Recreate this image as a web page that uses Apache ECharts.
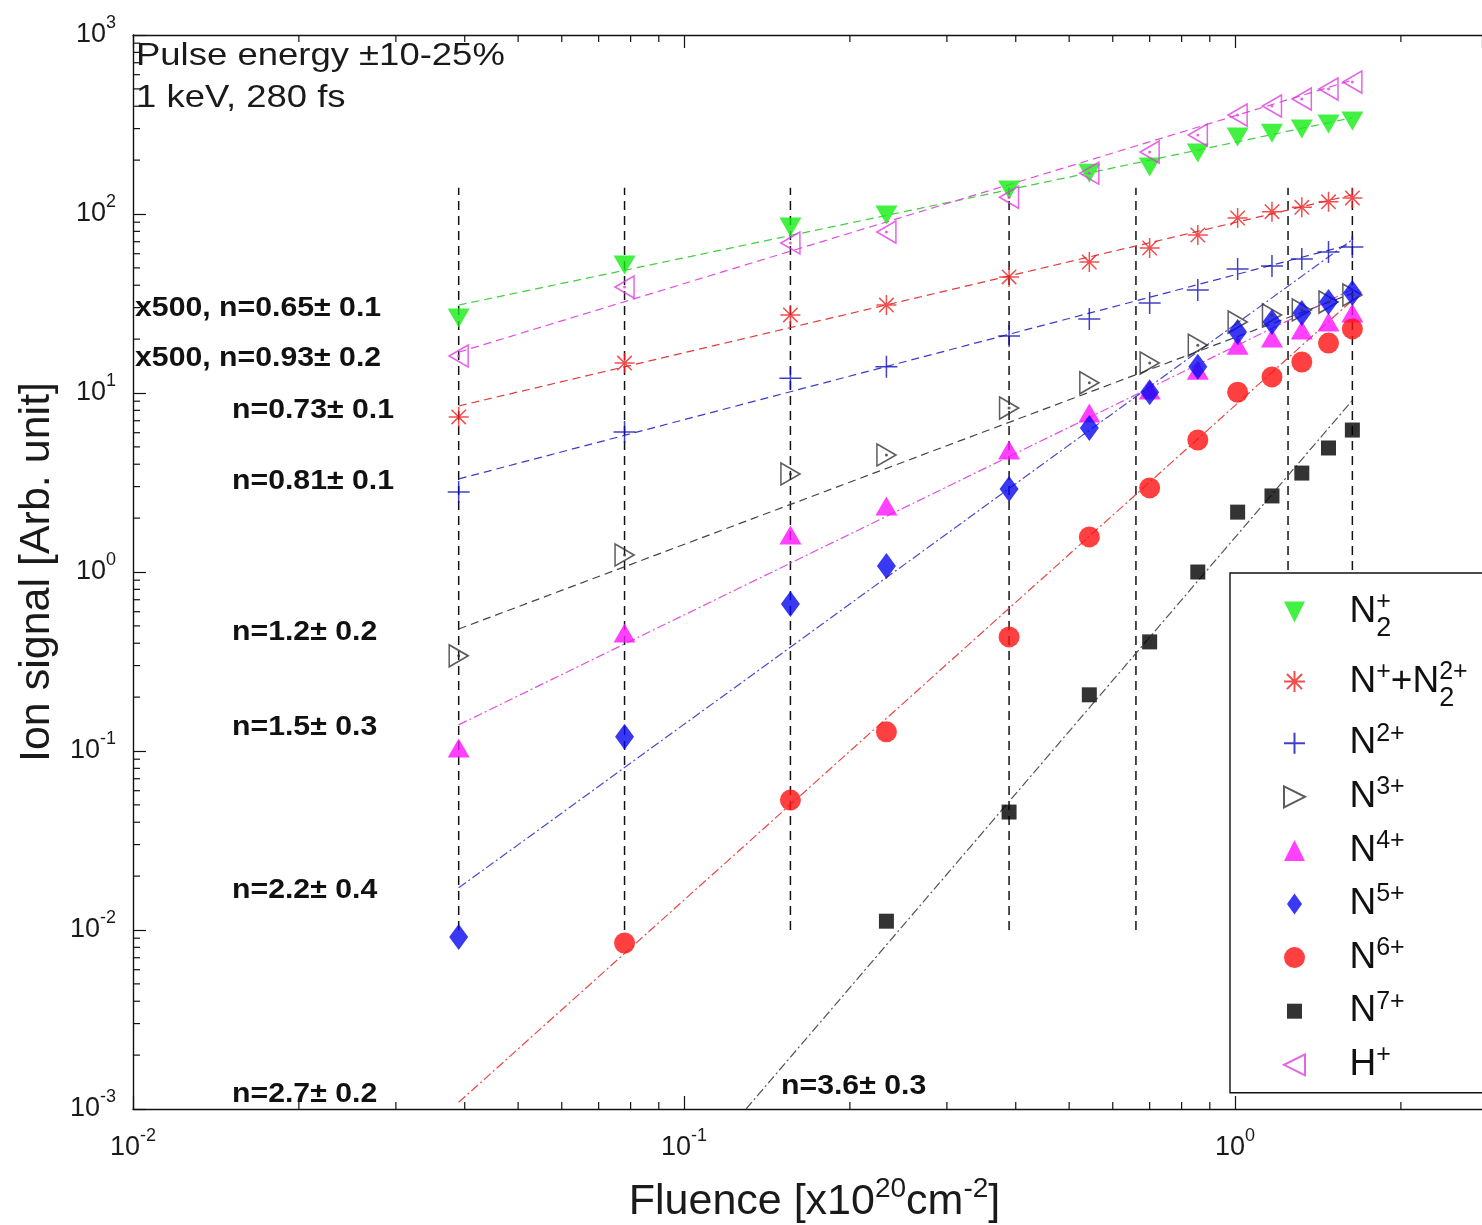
<!DOCTYPE html>
<html>
<head>
<meta charset="utf-8">
<script src="https://cdn.jsdelivr.net/npm/echarts@6/dist/echarts.min.js"></script>
<style>
html,body{margin:0;padding:0;background:#fff;}
#chart{width:1482px;height:1225px;}
</style>
</head>
<body>
<div id="chart"></div>
<script>
// ---------------- DATA ----------------
const fluence   = [0.039, 0.078, 0.156, 0.233, 0.389, 0.544, 0.700, 0.856, 1.011, 1.167, 1.322, 1.478, 1.633];
const sigN2p    = [26.2, 51.9, 84.6, 98.7, 136, 169, 183, 219, 269, 283, 298, 318, 331];
const sigNpN2pp = [7.35, 14.7, 27.3, 31.0, 44.5, 53.9, 64.6, 76.3, 95, 103, 109, 117, 123];
const sigN2plus = [2.80, 6.05, 12.1, 14.0, 20.8, 25.9, 31.8, 37.6, 49.3, 51.2, 56.1, 61.3, 65.4];
const sigN3     = [0.340, 1.245, 3.53, 4.51, 8.24, 11.4, 14.7, 18.5, 24.9, 27.3, 29.1, 32.2, 35.3];
const sigN4     = [0.104, 0.456, 1.61, 2.34, 4.80, 7.73, 10.4, 13.4, 18.5, 20.3, 22.5, 24.9, 28.0];
const sigN5     = [0.00914, 0.120, 0.662, 1.08, 2.91, 6.37, 10.1, 14.0, 21.9, 24.9, 28.0, 32.2, 36.2];
const sigN6     = [null, 0.00846, 0.0532, 0.128, 0.434, 1.57, 2.95, 5.46, 10.1, 12.3, 14.9, 19.0, 22.8];
const sigN7     = [null, null, null, 0.0112, 0.0456, 0.206, 0.407, 1.0, 2.16, 2.66, 3.57, 4.93, 6.21];
const sigHp     = [16.1, 39.1, 68.9, 79.3, 124, 169, 222, 276, 357, 401, 439, 499, 546];

// power-law fit lines (end points)
const fitX      = [0.039, 1.633];
const fitN2p    = [31.0, 345];
const fitHp     = [16.9, 560];
const fitNpN2pp = [8.46, 128];
const fitN2plus = [3.31, 68];
const fitN3     = [0.48, 36];
const fitN4     = [0.14, 38];
const fitN5     = [0.0172, 72];
const fitN6     = [0.00109, 33];
const fitN7X    = [0.1296, 1.633];
const fitN7     = [0.001, 9.1];

// vertical guide lines
const guideX = [0.039, 0.078, 0.156, 0.389, 0.661, 1.248, 1.633];
const guideY = [0.01, 140];

// series names and legend labels
const seriesNames = ['N2+', 'N+ + N2 2+', 'N 2+', 'N 3+', 'N 4+', 'N 5+', 'N 6+', 'N 7+', 'H+'];
const legendLabels = ['N{z|+}{s|2}', 'N{sp2|+}+N{z|2+}{s|2}', 'N{sp|2+}', 'N{sp|3+}', 'N{sp|4+}', 'N{sp|5+}', 'N{sp|6+}', 'N{sp|7+}', 'H{sp|+}'];

// annotation texts
const slopeTexts = ['x500, n=0.65\u00b1 0.1', 'x500, n=0.93\u00b1 0.2', 'n=0.73\u00b1 0.1', 'n=0.81\u00b1 0.1',
                    'n=1.2\u00b1 0.2', 'n=1.5\u00b1 0.3', 'n=2.2\u00b1 0.4', 'n=2.7\u00b1 0.2', 'n=3.6\u00b1 0.3'];
const infoTexts = ['Pulse energy \u00b110-25%', '1 keV, 280 fs'];

// axis ranges
const X_MIN = 0.01, X_MAX = 2.807, Y_MIN = 0.001, Y_MAX = 1000;

// ---------------- STYLE / LAYOUT ----------------
const FONT = '"Liberation Sans", Arial, Helvetica, sans-serif';
const SYM = {
  triDown: 'path://M-1,-1L1,-1L0,1Z',
  triUp: 'path://M0,-1L1,1L-1,1Z',
  triRight: 'path://M-1,-1L1,0L-1,1Z',
  triLeft: 'path://M1,-1L-1,0L1,1Z',
  plus: 'path://M0,-1L0,1M-1,0L1,0',
  star: 'path://M0,-1L0,1M-1,0L1,0M-0.72,-0.72L0.72,0.72M-0.72,0.72L0.72,-0.72',
  diamond: 'path://M0,-1L0.72,0L0,1L-0.72,0Z',
  circle: 'path://M1,0A1,1 0 1,1 -1,0A1,1 0 1,1 1,0Z',
  square: 'path://M-1,-1L1,-1L1,1L-1,1Z'
};
const markerDefs = [
  {data: sigN2p,    symbol: SYM.triDown,  size: [22, 19], color: '#14ee14', kind: 'fill'},
  {data: sigNpN2pp, symbol: SYM.star,     size: [20, 20], color: '#ee2222', kind: 'stroke'},
  {data: sigN2plus, symbol: SYM.plus,     size: [22, 22], color: '#1010b8', kind: 'stroke'},
  {data: sigN3,     symbol: SYM.triRight, size: [19, 22], color: '#333333', kind: 'hollow'},
  {data: sigN4,     symbol: SYM.triUp,    size: [22, 19], color: '#ff10ff', kind: 'fill'},
  {data: sigN5,     symbol: SYM.diamond,  size: [19, 26], color: '#0808f0', kind: 'fill'},
  {data: sigN6,     symbol: SYM.circle,   size: [21, 21], color: '#ff1010', kind: 'fill'},
  {data: sigN7,     symbol: SYM.square,   size: [15, 15], color: '#000000', kind: 'fill'},
  {data: sigHp,     symbol: SYM.triLeft,  size: [19, 22], color: '#dd40dd', kind: 'hollow'}
];
const DASH = [8, 5], DASHDOT = [9, 3, 2, 3];
const fitDefs = [
  {x: fitX,   y: fitN2p,    color: '#40d040', type: DASH},
  {x: fitX,   y: fitHp,     color: '#e050e0', type: DASH},
  {x: fitX,   y: fitNpN2pp, color: '#e03a3a', type: DASH},
  {x: fitX,   y: fitN2plus, color: '#3a3ac8', type: DASH},
  {x: fitX,   y: fitN3,     color: '#444444', type: DASH},
  {x: fitX,   y: fitN4,     color: '#e050e0', type: DASHDOT},
  {x: fitX,   y: fitN5,     color: '#4a4ad0', type: DASHDOT},
  {x: fitX,   y: fitN6,     color: '#e84848', type: DASHDOT},
  {x: fitN7X, y: fitN7,     color: '#555555', type: DASHDOT}
];
// annotation layout (pixel positions of the text anchors)
const slopePos = [[135, 308], [135, 358], [232, 410], [232, 481], [232, 632], [232, 727], [232, 890], [232, 1094], [781, 1086]];
const infoPos = [[136, 56], [136, 98]];

// ---------------- HELPERS ----------------
function pts(xs, ys) {
  const out = [];
  xs.forEach((x, i) => { if (ys[i] != null) out.push([x, ys[i]]); });
  return out;
}
function powLabel(v) {
  const e = Math.log10(v), r = Math.round(e);
  if (Math.abs(e - r) > 1e-6) return '';
  return '{b|10}{sup|' + r + '}';
}
function minorTicks(lo, hi, maxV) {
  const out = [];
  for (let e = lo; e < hi; e++) for (let m = 2; m <= 9; m++) {
    const v = m * Math.pow(10, e);
    if (v < maxV) out.push(v);
  }
  return out;
}
const xMinor = minorTicks(-2, 1, X_MAX);
const yMinor = minorTicks(-3, 3, Y_MAX);

const tickRich = {
  b: {fontSize: 27, lineHeight: 42, fontFamily: FONT, color: '#1a1a1a'},
  sup: {fontSize: 18, lineHeight: 18, verticalAlign: 'top', fontFamily: FONT, color: '#1a1a1a'}
};

function tickSeries(data, dx, dy) {
  return {
    type: 'custom', silent: true, clip: false, z: 10,
    data: data,
    renderItem: function (params, api) {
      const c = api.coord([api.value(0), api.value(1)]);
      return {type: 'line', shape: {x1: c[0], y1: c[1], x2: c[0] + dx, y2: c[1] + dy},
              style: {stroke: '#111', lineWidth: 1.2}};
    }
  };
}

// ---------------- SERIES ----------------
const series = [];
guideX.forEach(x => {
  series.push({type: 'line', silent: true, symbol: 'none', z: 1,
    data: [[x, guideY[0]], [x, guideY[1]]],
    lineStyle: {color: '#111', width: 1.5, type: [9, 6]}});
});
fitDefs.forEach(f => {
  series.push({type: 'line', silent: true, symbol: 'none', z: 2,
    data: [[f.x[0], f.y[0]], [f.x[1], f.y[1]]],
    lineStyle: {color: f.color, width: 1.2, type: f.type}});
});
markerDefs.forEach((m, i) => {
  const itemStyle = {};
  if (m.kind === 'fill') { itemStyle.color = m.color; itemStyle.borderWidth = 0; }
  else if (m.kind === 'stroke') { itemStyle.color = m.color; itemStyle.borderColor = m.color; itemStyle.borderWidth = 1.5; }
  else { itemStyle.color = 'rgba(255,255,255,0)'; itemStyle.borderColor = m.color; itemStyle.borderWidth = 1.6; }
  series.push({type: 'scatter', name: seriesNames[i], silent: true, z: 5,
    data: pts(fluence, m.data), symbol: m.symbol, symbolSize: m.size, itemStyle: itemStyle});
  if (m.kind === 'hollow') {
    series.push({type: 'scatter', silent: true, z: 6, data: pts(fluence, m.data),
      symbol: 'circle', symbolSize: 3, itemStyle: {color: m.color}});
  }
});
series.push(tickSeries(xMinor.map(v => [v, Y_MIN]), 0, -7));
series.push(tickSeries(xMinor.map(v => [v, Y_MAX]), 0, 7));
series.push(tickSeries(yMinor.map(v => [X_MIN, v]), 7, 0));

// ---------------- GRAPHIC TEXTS ----------------
const graphic = [];
slopeTexts.forEach((t, i) => {
  graphic.push({type: 'text', x: slopePos[i][0], y: slopePos[i][1], scaleX: 1.08, silent: true, z: 20,
    style: {text: t, fill: '#111', font: 'bold 28px ' + FONT, verticalAlign: 'middle', align: 'left'}});
});
infoTexts.forEach((t, i) => {
  graphic.push({type: 'text', x: infoPos[i][0], y: infoPos[i][1], scaleX: 1.14, silent: true, z: 20,
    style: {text: t, fill: '#1a1a1a', font: '32px ' + FONT, verticalAlign: 'middle', align: 'left'}});
});

// legend entries (smaller icon for the square, as in the reference)
const legendData = seriesNames.map((n, i) => i === 7
  ? {name: n, icon: 'path://M-1.4,-1.4L-1.4,-1.4M-1,-1L1,-1L1,1L-1,1ZM1.4,1.4L1.4,1.4'}
  : {name: n});

// ---------------- OPTION ----------------
const axisLineStyle = {show: true, lineStyle: {color: '#111', width: 1.4}};
const option = {
  animation: false,
  backgroundColor: '#fff',
  grid: {left: 133, top: 35, right: 0, bottom: 116, containLabel: false, outerBoundsMode: 'none'},
  xAxis: [{
    type: 'log', logBase: 10, min: X_MIN, max: X_MAX, position: 'bottom',
    axisLine: axisLineStyle,
    axisTick: {show: true, inside: true, length: 13, lineStyle: {color: '#111', width: 1.2}},
    axisLabel: {show: true, margin: 18, formatter: powLabel, rich: tickRich, showMaxLabel: false},
    splitLine: {show: false}, minorTick: {show: false},
    name: 'Fluence [x10{sup|20}cm{sup|-2}]', nameLocation: 'middle', nameGap: 66,
    nameTextStyle: {fontSize: 43, lineHeight: 54, fontFamily: FONT, color: '#1a1a1a', padding: [0, 0, 0, 14],
      rich: {sup: {fontSize: 28, lineHeight: 28, verticalAlign: 'top', fontFamily: FONT, color: '#1a1a1a'}}}
  }, {
    type: 'log', logBase: 10, min: X_MIN, max: X_MAX, position: 'top',
    axisLine: axisLineStyle,
    axisTick: {show: true, inside: true, length: 13, lineStyle: {color: '#111', width: 1.2}},
    axisLabel: {show: false}, splitLine: {show: false}
  }],
  yAxis: [{
    type: 'log', logBase: 10, min: Y_MIN, max: Y_MAX, position: 'left',
    axisLine: axisLineStyle,
    axisTick: {show: true, inside: true, length: 13, lineStyle: {color: '#111', width: 1.2}},
    axisLabel: {show: true, margin: 17, formatter: powLabel, rich: tickRich},
    splitLine: {show: false}, minorTick: {show: false},
    name: 'Ion signal [Arb. unit]', nameLocation: 'middle', nameGap: 73, nameRotate: 90,
    nameTextStyle: {fontSize: 43, fontFamily: FONT, color: '#1a1a1a'}
  }],
  legend: {
    show: true, orient: 'vertical', left: 1230, top: 573,
    padding: [9, 80, 6, 53], itemGap: 9.6, itemWidth: 100, itemHeight: 21,
    backgroundColor: '#fff', borderColor: '#111', borderWidth: 1.4, borderRadius: 0,
    selectedMode: false, symbolKeepAspect: true,
    data: legendData,
    formatter: function (name) { return legendLabels[seriesNames.indexOf(name)]; },
    textStyle: {fontSize: 37, lineHeight: 44, fontFamily: FONT, color: '#111',
      rich: {
        sp: {fontSize: 25, verticalAlign: 'top', fontFamily: FONT, color: '#111'},
        sp2: {fontSize: 25, verticalAlign: 'top', padding: [8, 0, 0, 0], fontFamily: FONT, color: '#111'},
        z: {fontSize: 25, verticalAlign: 'top', padding: [8, 0, 0, 0], width: 0, fontFamily: FONT, color: '#111'},
        s: {fontSize: 27, lineHeight: 60, verticalAlign: 'bottom', fontFamily: FONT, color: '#111'}
      }}
  },
  graphic: graphic,
  series: series
};

const chart = echarts.init(document.getElementById('chart'), null, {renderer: 'canvas'});
chart.setOption(option);
</script>
</body>
</html>
